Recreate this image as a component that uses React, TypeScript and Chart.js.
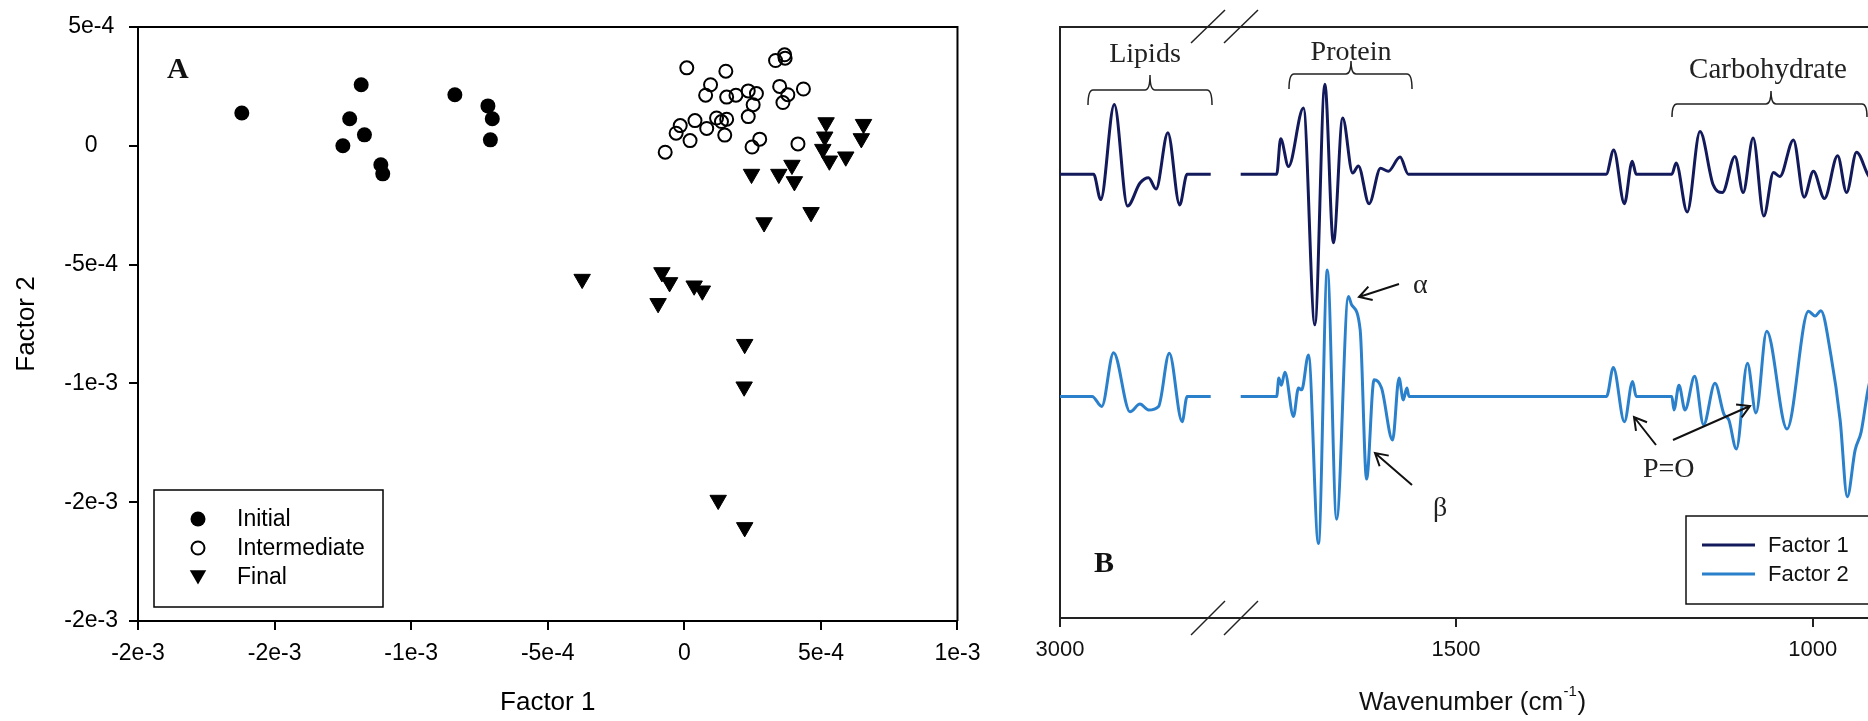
import React, { useEffect, useRef } from 'react';
import { Chart, registerables } from 'chart.js';

Chart.register(...registerables);

const SANS = '"Liberation Sans", Arial, Helvetica, sans-serif';
const SERIF = '"Liberation Serif", "Times New Roman", Times, serif';

// ---------------- Panel A : scores ----------------
const initialX = [-1.62e-3, -1.183e-3, -1.225e-3, -1.171e-3, -1.25e-3, -1.111e-3, -1.104e-3, -8.4e-4, -7.19e-4, -7.03e-4, -7.1e-4];
const initialY = [1.38e-4, 2.57e-4, 1.14e-4, 4.6e-5, 0, -8.0e-5, -1.18e-4, 2.15e-4, 1.68e-4, 1.14e-4, 2.5e-5];

const intermediateX = [9e-6, 1.52e-4, 3.34e-4, 3.67e-4, 3.69e-4, 9.6e-5, 7.8e-5, 1.55e-4, 1.89e-4, 2.34e-4, 2.64e-4, 2.52e-4, 2.34e-4, 3.49e-4, 3.79e-4, 3.61e-4, 4.36e-4, 3.9e-5, -1.5e-5, -3.0e-5, 2.1e-5, 8.2e-5, 1.18e-4, 1.55e-4, 1.36e-4, 1.48e-4, 2.76e-4, 2.48e-4, 4.16e-4, -7.0e-5];
const intermediateY = [3.28e-4, 3.14e-4, 3.59e-4, 3.83e-4, 3.69e-4, 2.57e-4, 2.13e-4, 2.05e-4, 2.13e-4, 2.31e-4, 2.2e-4, 1.73e-4, 1.23e-4, 2.5e-4, 2.15e-4, 1.82e-4, 2.39e-4, 1.06e-4, 8.5e-5, 5.3e-5, 2.2e-5, 7.3e-5, 1.17e-4, 1.12e-4, 1.02e-4, 4.5e-5, 2.8e-5, -5e-6, 8e-6, -2.7e-5];

const finalX = [5.19e-4, 6.56e-4, 5.14e-4, 6.48e-4, 5.07e-4, 5.31e-4, 5.91e-4, 3.94e-4, 2.46e-4, 3.46e-4, 4.03e-4, 4.64e-4, 2.92e-4, -3.74e-4, -8.2e-5, -5.4e-5, 3.6e-5, 6.6e-5, -9.6e-5, 2.21e-4, 2.19e-4, 1.24e-4, 2.21e-4];
const finalY = [9.8e-5, 9.1e-5, 3.8e-5, 3.1e-5, -1.4e-5, -6.3e-5, -4.6e-5, -8.1e-5, -1.19e-4, -1.19e-4, -1.5e-4, -2.8e-4, -3.23e-4, -5.61e-4, -5.33e-4, -5.75e-4, -5.89e-4, -6.1e-4, -6.63e-4, -8.35e-4, -1.014e-3, -1.491e-3, -1.606e-3];

const seriesLabelsA = ['Initial', 'Intermediate', 'Final'];
const xTickValuesA = [-2e-3, -1.5e-3, -1e-3, -5e-4, 0, 5e-4, 1e-3];
const xTickLabelsA = ['-2e-3', '-2e-3', '-1e-3', '-5e-4', '0', '5e-4', '1e-3'];
const yTickValuesA = [-2e-3, -1.5e-3, -1e-3, -5e-4, 0, 5e-4];
const yTickLabelsA = ['-2e-3', '-2e-3', '-1e-3', '-5e-4', '0', '5e-4'];
const xTitleA = 'Factor 1';
const yTitleA = 'Factor 2';

// ---------------- Panel B : loadings ----------------
const f1LipidWn = [3000, 2953, 2943, 2924, 2905.5, 2888, 2876, 2865.5, 2849, 2832.5, 2822, 2789];
const f1LipidAmp = [0, 0, -4.3, 11.8, -5.4, -1.5, -0.6, -2.5, 7.0, -5.2, 0, 0];
const f2LipidWn = [3000, 2955, 2941.5, 2925, 2902, 2888, 2876, 2862, 2847, 2829, 2822, 2789];
const f2LipidAmp = [0, 0, -1.7, 7.4, -2.6, -1.3, -2.3, -1.7, 7.3, -4.3, 0, 0];

const f1MainWn = [1802, 1751.5, 1746, 1735, 1714, 1698, 1684, 1672, 1659, 1645, 1637, 1622, 1606, 1595, 1578.5, 1567, 1289.5, 1279, 1264, 1253, 1247.5, 1197.5, 1191.5, 1176, 1158, 1139.5, 1126.5, 1109, 1097.5, 1083.5, 1068.5, 1055, 1046, 1027, 1012, 999, 983.5, 965, 952.5, 938.5, 922.5, 908.5];
const f1MainAmp = [0, 0, 6.0, 1.3, 11.2, -25.5, 15.2, -11.6, 9.5, 0.2, 1.4, -5.0, 1.0, 0.5, 2.9, 0, 0, 4.1, -5.0, 2.2, 0, 0, 1.9, -6.4, 7.2, -1.8, -3.1, 3.0, -3.1, 6.1, -7.1, 0.3, -0.4, 5.8, -3.9, 0.5, -4.1, 3.1, -3.1, 3.7, -0.1, -2.6];
const f2MainWn = [1802, 1751.5, 1748.5, 1745, 1740, 1728, 1721, 1716.5, 1707, 1693, 1680.5, 1667.5, 1651, 1646.5, 1634.5, 1625.5, 1615, 1604.5, 1589, 1580, 1574, 1569, 1566, 1289, 1279.5, 1264, 1252.5, 1247.5, 1197.5, 1194.5, 1187.5, 1179, 1165.5, 1153, 1137, 1124.5, 1117.5, 1107, 1091.5, 1079.5, 1064.5, 1036, 1006, 996.5, 988.5, 974.5, 961.5, 951.5, 940.5, 932, 922.5, 908.5];
const f2MainAmp = [0, 0, 3.1, 1.9, 4.1, -3.4, 1.4, 1.1, 7.0, -24.9, 21.4, -20.8, 16.9, 15.5, 11.3, -14.0, 2.8, 1.4, -7.4, 3.1, -0.6, 1.4, 0, 0, 4.9, -4.3, 2.5, 0, 0, -2.3, 1.9, -2.3, 3.4, -4.8, 2.2, -3.0, -4.0, -8.9, 5.6, -2.8, 11.0, -5.5, 14.4, 13.6, 14.5, 7.0, -4.0, -17.0, -9.1, -6.0, 1.1, 7.9];

const factor1Offset = 75.1;
const factor2Offset = 37.5;
const seriesLabelsB = ['Factor 1', 'Factor 2'];
const seriesColorsB = ['#131a5c', '#2b80cc'];
const leftTickValuesB = [3000];
const leftTickLabelsB = ['3000'];
const rightTickValuesB = [1000, 1500];
const rightTickLabelsB = ['1000', '1500'];
const xTitleB = 'Wavenumber (cm';
const xTitleSupB = '-1';

const B_LEFT = 990;

// ---------------- helpers ----------------
function downTriangle(ctx: CanvasRenderingContext2D, x: number, y: number, r: number) {
  let rad = Math.PI;
  ctx.beginPath();
  for (let k = 0; k < 3; k++) {
    const px = x + Math.sin(rad) * r;
    const py = y - Math.cos(rad) * r;
    if (k === 0) ctx.moveTo(px, py); else ctx.lineTo(px, py);
    rad += (2 * Math.PI) / 3;
  }
  ctx.closePath();
}

function arrow(ctx: CanvasRenderingContext2D, x1: number, y1: number, x2: number, y2: number) {
  const ang = Math.atan2(y2 - y1, x2 - x1);
  const h = 14;
  const a = Math.PI / 6;
  ctx.beginPath();
  ctx.moveTo(x1, y1);
  ctx.lineTo(x2, y2);
  ctx.moveTo(x2 - h * Math.cos(ang - a), y2 - h * Math.sin(ang - a));
  ctx.lineTo(x2, y2);
  ctx.lineTo(x2 - h * Math.cos(ang + a), y2 - h * Math.sin(ang + a));
  ctx.stroke();
}

function brace(ctx: CanvasRenderingContext2D, left: number, right: number, y: number, ends: number, peakX: number, peakY: number) {
  const r = 5;
  ctx.beginPath();
  ctx.moveTo(left, ends);
  ctx.quadraticCurveTo(left, y, left + r, y);
  ctx.lineTo(peakX - r, y);
  ctx.quadraticCurveTo(peakX, y, peakX, peakY);
  ctx.quadraticCurveTo(peakX, y, peakX + r, y);
  ctx.lineTo(right - r, y);
  ctx.quadraticCurveTo(right, y, right, ends);
  ctx.stroke();
}

// ---------------- Panel A ----------------
const panelADecor = {
  id: 'panelADecor',
  afterDraw(chart: any) {
    const { ctx, chartArea: a } = chart;
    ctx.save();
    ctx.strokeStyle = '#000';
    ctx.lineWidth = 2;
    ctx.beginPath();
    ctx.moveTo(a.left, a.top);
    ctx.lineTo(a.right, a.top);
    ctx.lineTo(a.right, a.bottom);
    ctx.stroke();

    ctx.fillStyle = '#111';
    ctx.font = `bold 30px ${SERIF}`;
    ctx.textAlign = 'left';
    ctx.textBaseline = 'alphabetic';
    ctx.fillText('A', 167, 78);

    ctx.fillStyle = '#000';
    ctx.font = `26px ${SANS}`;
    ctx.textAlign = 'center';
    ctx.textBaseline = 'middle';
    ctx.fillText(xTitleA, (a.left + a.right) / 2, 703);
    ctx.save();
    ctx.translate(27, (a.top + a.bottom) / 2);
    ctx.rotate(-Math.PI / 2);
    ctx.fillText(yTitleA, 0, 0);
    ctx.restore();

    // legend
    ctx.lineWidth = 1.5;
    ctx.strokeRect(154, 490, 229, 117);
    const rows = [519, 548, 577];
    ctx.font = `23px ${SANS}`;
    ctx.textAlign = 'left';
    seriesLabelsA.forEach((lab, i) => {
      const y = rows[i];
      ctx.fillStyle = '#000';
      ctx.strokeStyle = '#000';
      if (i === 0) {
        ctx.beginPath();
        ctx.arc(198, y, 7.5, 0, Math.PI * 2);
        ctx.fill();
      } else if (i === 1) {
        ctx.lineWidth = 2;
        ctx.beginPath();
        ctx.arc(198, y, 6.5, 0, Math.PI * 2);
        ctx.stroke();
      } else {
        downTriangle(ctx, 198, y - 2, 9.5);
        ctx.fill();
      }
      ctx.fillText(lab, 237, y + 1);
    });
    ctx.restore();
  },
};

function PanelA() {
  const ref = useRef<HTMLCanvasElement>(null);
  useEffect(() => {
    const canvas = ref.current as HTMLCanvasElement;
    const chart = new Chart(canvas, {
      type: 'scatter',
      data: {
        datasets: [
          {
            label: seriesLabelsA[0],
            data: initialX.map((x, i) => ({ x, y: initialY[i] })),
            pointStyle: 'circle',
            pointRadius: 7.5,
            backgroundColor: '#000',
            borderColor: '#000',
            borderWidth: 0,
          },
          {
            label: seriesLabelsA[1],
            data: intermediateX.map((x, i) => ({ x, y: intermediateY[i] })),
            pointStyle: 'circle',
            pointRadius: 6.5,
            backgroundColor: 'rgba(0,0,0,0)',
            borderColor: '#000',
            borderWidth: 2,
          },
          {
            label: seriesLabelsA[2],
            data: finalX.map((x, i) => ({ x, y: finalY[i] })),
            pointStyle: 'triangle',
            rotation: 180,
            pointRadius: 9.5,
            backgroundColor: '#000',
            borderColor: '#000',
            borderWidth: 1,
          },
        ],
      } as any,
      options: {
        animation: false,
        responsive: false,
        maintainAspectRatio: false,
        events: [],
        layout: { padding: { left: 0, top: 27, right: 27, bottom: 0 } },
        plugins: { legend: { display: false }, tooltip: { enabled: false } },
        scales: {
          x: {
            type: 'linear',
            min: -2e-3,
            max: 1e-3,
            afterBuildTicks: (s: any) => { s.ticks = xTickValuesA.map((v) => ({ value: v })); },
            afterFit: (s: any) => { s.height = 100; },
            ticks: {
              callback: (_v: any, i: number) => xTickLabelsA[i],
              font: { family: SANS, size: 23 },
              color: '#000',
              padding: 9.5,
              maxRotation: 0,
              autoSkip: false,
            },
            grid: { display: true, drawOnChartArea: false, drawTicks: true, tickLength: 9, color: '#000', lineWidth: 2 },
            border: { display: true, color: '#000', width: 2 },
          },
          y: {
            type: 'linear',
            min: -2e-3,
            max: 5e-4,
            afterBuildTicks: (s: any) => { s.ticks = yTickValuesA.map((v) => ({ value: v })); },
            afterFit: (s: any) => { s.width = 138; },
            ticks: {
              callback: (_v: any, i: number) => yTickLabelsA[i],
              font: { family: SANS, size: 23 },
              color: '#000',
              padding: 11,
              crossAlign: 'center',
              autoSkip: false,
            },
            grid: { display: true, drawOnChartArea: false, drawTicks: true, tickLength: 9, color: '#000', lineWidth: 2 },
            border: { display: true, color: '#000', width: 2 },
          },
        },
      } as any,
      plugins: [panelADecor],
    });
    return () => chart.destroy();
  }, []);
  return (
    <canvas
      ref={ref}
      width={990}
      height={721}
      style={{ position: 'absolute', left: 0, top: 0, width: 990, height: 721 }}
    />
  );
}

// ---------------- Panel B ----------------
const panelBDecor = {
  id: 'panelBDecor',
  afterDraw(chart: any) {
    const { ctx, chartArea: a } = chart;
    const X = (px: number) => px - B_LEFT;
    ctx.save();
    ctx.lineCap = 'butt';
    ctx.strokeStyle = '#222';
    ctx.lineWidth = 2;
    ctx.beginPath();
    ctx.moveTo(a.left, a.top);
    ctx.lineTo(a.right, a.top);
    ctx.lineTo(a.right, a.bottom);
    ctx.stroke();

    // axis break marks
    const bx = chart.scales.xL.right;
    ctx.lineWidth = 1.5;
    const pairs: [number, number][] = [[a.bottom + 17, a.bottom - 17], [a.top + 16, a.top - 17]];
    pairs.forEach(([yb, yt]) => {
      [-17, 16].forEach((dx) => {
        ctx.beginPath();
        ctx.moveTo(bx + dx - 17, yb);
        ctx.lineTo(bx + dx + 17, yt);
        ctx.stroke();
      });
    });

    // braces
    ctx.lineWidth = 1.5;
    ctx.strokeStyle = '#222';
    brace(ctx, X(1088), X(1212), 90, 105, X(1150), 75);
    brace(ctx, X(1289), X(1412), 74, 89, X(1351), 61);
    brace(ctx, X(1672), X(1867), 104, 117, X(1771), 91);

    // region labels
    ctx.fillStyle = '#222';
    ctx.textBaseline = 'alphabetic';
    ctx.textAlign = 'center';
    ctx.font = `28px ${SERIF}`;
    ctx.fillText('Lipids', X(1145), 62);
    ctx.fillText('Protein', X(1351), 60);
    ctx.font = `29px ${SERIF}`;
    ctx.fillText('Carbohydrate', X(1768), 78);

    ctx.textAlign = 'left';
    ctx.font = `28px ${SERIF}`;
    ctx.fillText('α', X(1413), 293);
    ctx.fillText('β', X(1433), 516);
    ctx.fillText('P=O', X(1643), 477);
    ctx.font = `bold 30px ${SERIF}`;
    ctx.fillStyle = '#111';
    ctx.fillText('B', X(1094), 572);

    // arrows
    ctx.strokeStyle = '#111';
    ctx.lineWidth = 2;
    arrow(ctx, X(1399), 284, X(1359), 297);
    arrow(ctx, X(1412), 485, X(1375), 453);
    arrow(ctx, X(1656), 445, X(1634), 417);
    arrow(ctx, X(1673), 440, X(1750), 406);

    // legend
    ctx.lineWidth = 1.5;
    ctx.strokeStyle = '#111';
    ctx.strokeRect(X(1686), 516, 200, 88);
    const rows = [545, 574];
    ctx.font = `22px ${SANS}`;
    ctx.textBaseline = 'middle';
    ctx.textAlign = 'left';
    seriesLabelsB.forEach((lab, i) => {
      ctx.strokeStyle = seriesColorsB[i];
      ctx.lineWidth = 3;
      ctx.beginPath();
      ctx.moveTo(X(1702), rows[i]);
      ctx.lineTo(X(1755), rows[i]);
      ctx.stroke();
      ctx.fillStyle = '#111';
      ctx.fillText(lab, X(1768), rows[i] + 1);
    });

    // axis title with superscript
    const cx = (a.left + a.right) / 2;
    ctx.fillStyle = '#111';
    ctx.font = `26px ${SANS}`;
    const w1 = ctx.measureText(xTitleB).width;
    const w3 = ctx.measureText(')').width;
    ctx.font = `15px ${SANS}`;
    const w2 = ctx.measureText(xTitleSupB).width;
    const start = cx - (w1 + w2 + w3) / 2;
    ctx.font = `26px ${SANS}`;
    ctx.fillText(xTitleB, start, 703);
    ctx.fillText(')', start + w1 + w2 + 1, 703);
    ctx.font = `15px ${SANS}`;
    ctx.fillText(xTitleSupB, start + w1 + 0.5, 692);
    ctx.restore();
  },
};

function lineDs(label: string, axis: string, wn: number[], amp: number[], offset: number, color: string) {
  return {
    label,
    xAxisID: axis,
    yAxisID: 'y',
    data: wn.map((x, i) => ({ x, y: offset + amp[i] })),
    borderColor: color,
    backgroundColor: color,
    borderWidth: 3,
    pointRadius: 0,
    fill: false,
    cubicInterpolationMode: 'monotone',
  };
}

function PanelB() {
  const ref = useRef<HTMLCanvasElement>(null);
  useEffect(() => {
    const canvas = ref.current as HTMLCanvasElement;
    const tickFont = { family: SANS, size: 22 };
    const grid = { display: true, drawOnChartArea: false, drawTicks: true, tickLength: 9, color: '#222', lineWidth: 2 };
    const border = { display: true, color: '#222', width: 2 };
    const chart = new Chart(canvas, {
      type: 'line',
      data: {
        datasets: [
          lineDs(seriesLabelsB[0], 'xL', f1LipidWn, f1LipidAmp, factor1Offset, seriesColorsB[0]),
          lineDs(seriesLabelsB[0], 'xR', f1MainWn, f1MainAmp, factor1Offset, seriesColorsB[0]),
          lineDs(seriesLabelsB[1], 'xL', f2LipidWn, f2LipidAmp, factor2Offset, seriesColorsB[1]),
          lineDs(seriesLabelsB[1], 'xR', f2MainWn, f2MainAmp, factor2Offset, seriesColorsB[1]),
        ],
      } as any,
      options: {
        animation: false,
        responsive: false,
        maintainAspectRatio: false,
        events: [],
        layout: { padding: { left: 0, top: 27, right: 6, bottom: 0 } },
        plugins: { legend: { display: false }, tooltip: { enabled: false } },
        scales: {
          xL: {
            type: 'linear',
            position: 'bottom',
            stack: 'wn',
            stackWeight: 165,
            reverse: true,
            min: 2769,
            max: 3000,
            afterBuildTicks: (s: any) => { s.ticks = leftTickValuesB.map((v) => ({ value: v })); },
            afterFit: (s: any) => { s.height = 103; },
            ticks: { callback: (_v: any, i: number) => leftTickLabelsB[i], font: tickFont, color: '#111', padding: 9.8, maxRotation: 0, autoSkip: false },
            grid,
            border,
          },
          xR: {
            type: 'linear',
            position: 'bottom',
            stack: 'wn',
            stackWeight: 659,
            reverse: true,
            min: 900,
            max: 1824,
            afterBuildTicks: (s: any) => { s.ticks = rightTickValuesB.map((v) => ({ value: v })); },
            afterFit: (s: any) => { s.height = 103; },
            ticks: { callback: (_v: any, i: number) => rightTickLabelsB[i], font: tickFont, color: '#111', padding: 9.8, maxRotation: 0, autoSkip: false },
            grid,
            border,
          },
          y: {
            type: 'linear',
            position: 'left',
            min: 0,
            max: 100,
            afterFit: (s: any) => { s.width = 70; },
            ticks: { display: false },
            grid: { display: false },
            border,
          },
        },
      } as any,
      plugins: [panelBDecor],
    });
    return () => chart.destroy();
  }, []);
  return (
    <canvas
      ref={ref}
      width={900}
      height={721}
      style={{ position: 'absolute', left: B_LEFT, top: 0, width: 900, height: 721 }}
    />
  );
}

export default function App() {
  return (
    <div
      style={{
        position: 'fixed',
        left: 0,
        top: 0,
        width: 1868,
        height: 721,
        overflow: 'hidden',
        background: '#fff',
      }}
    >
      <PanelA />
      <PanelB />
    </div>
  );
}
